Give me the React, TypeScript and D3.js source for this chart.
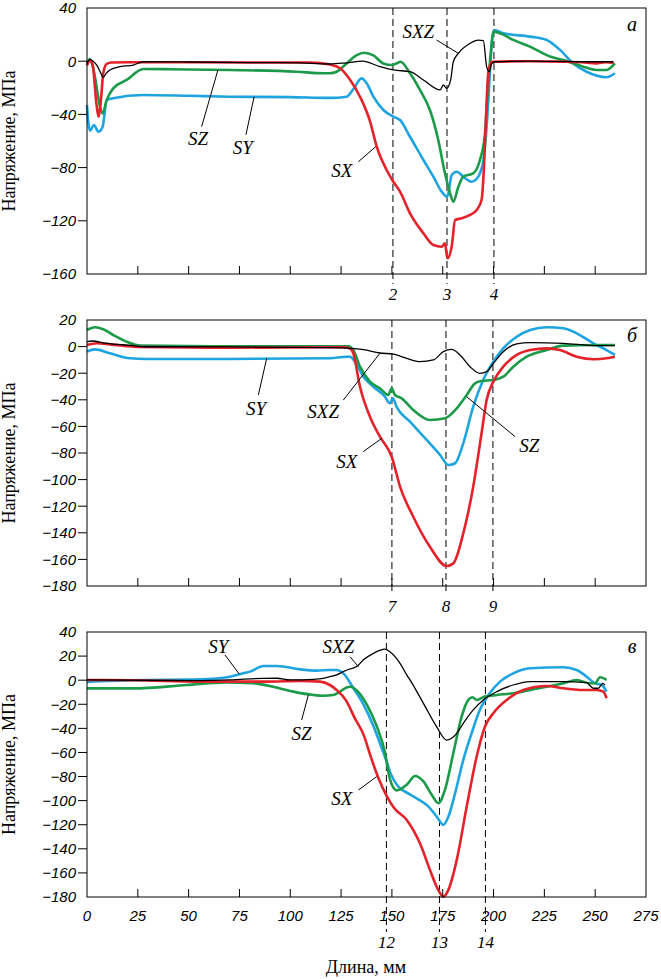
import { useEffect, useRef } from 'react';
import * as d3 from 'd3';

type Pt = [number, number];

// Panel а
const aSX: Pt[] = [[0,-3],[1.3,0.5],[2.8,-3],[4.5,-30],[5.6,-41.7],[6.8,-30],[8,-9],[9.7,-2],[12,-1],[20,-0.8],[50,-0.8],[80,-1],[110,-1],[119.5,-2.5],[124.5,-5.3],[129.4,-14],[134.3,-26.7],[139.2,-45],[142.5,-64],[147.4,-81.8],[150.7,-90.6],[154,-98],[158.9,-114.4],[165.5,-129.4],[170.4,-138.2],[174.5,-139.5],[176.1,-137],[177.3,-148.2],[179.4,-139.5],[181.1,-119.4],[184.3,-118.1],[188.4,-115.6],[191.7,-111.9],[194.1,-104.4],[195.3,-79.3],[196.3,-41.7],[197.4,-9.1],[199.1,-0.4],[218,0],[234,-0.4],[245,-1],[250.7,-1.6],[255,-0.8],[259,-1.2]];
const aSY: Pt[] = [[0,-33],[0.5,-44],[1.5,-52.3],[3.4,-48],[5.6,-53],[7.7,-49.2],[9.7,-29.2],[12.9,-27.9],[27.7,-25.4],[50,-26],[70.4,-26.7],[100,-27],[119.5,-27.6],[127.7,-26.7],[131,-21],[135.1,-12.9],[137.6,-16.6],[140.9,-26.7],[145.8,-36.7],[150.7,-41.7],[154,-44.2],[158.9,-56.8],[165.5,-74.3],[170.4,-86.8],[174.5,-98.1],[177.3,-101.9],[179.4,-85.6],[181.9,-83.1],[185.1,-86.8],[189.2,-90.6],[192.5,-86.8],[195,-74.3],[196.6,-49.2],[197.9,-16.6],[199.1,13.4],[200.2,23.5],[204.8,21],[217.9,18.5],[226.1,16],[232.7,8.5],[239.2,-1.7],[245.8,-7.9],[255.6,-12.1],[259.7,-9.1]];
const aSZ: Pt[] = [[0,-3],[1.1,1.4],[2.5,-2],[3.9,-11.6],[5.2,-24],[6.4,-34.2],[7.7,-39.2],[9.7,-29.2],[12.9,-20.4],[19.5,-14.1],[27.7,-5.9],[40,-6],[70.4,-6.6],[103.2,-7.9],[116.2,-9.1],[119.5,-9.1],[122.8,-7.9],[127.7,-1.7],[132.7,4.6],[136.4,6.4],[140.9,4.3],[145.8,-1.7],[149.9,-2.9],[152.5,-1.5],[154.2,-0.4],[158.9,-9.1],[163.8,-21.6],[168.7,-36.7],[172.8,-59.2],[176.1,-84.3],[178.6,-99.3],[180.2,-105.6],[182.7,-94.4],[185.1,-86.8],[190,-84.3],[193.3,-74.3],[195.8,-54.2],[197.4,-16.6],[198.8,8.6],[199.9,22.2],[203.2,21],[209.7,16],[217.9,11],[227.8,3.5],[234.3,0.9],[244.1,-4.1],[250.7,-6.6],[255.6,-6.6],[259.7,-1.7]];
const aSXZ: Pt[] = [[0,-1.7],[1.5,1.3],[3,0],[4.8,-3],[6.5,-8],[8,-12.1],[9.5,-9],[11.3,-6.6],[16.2,-4.1],[22.8,-2.9],[27.7,-0.4],[50,-0.6],[80,-1],[105,-1.3],[115,-2],[119.5,-2.1],[127.7,-1.2],[135.5,0],[144.1,-4.1],[150.7,-6.6],[158.9,-7.9],[165.5,-14.1],[173.7,-21.6],[175.3,-17.9],[176.9,-20.4],[178.9,-14.1],[180.2,-0.4],[182.7,5.9],[188.4,13.4],[192.5,15.9],[195,15.4],[196.6,-4.1],[197.9,-7.9],[199.1,-1.7],[200.7,-0.4],[218,0],[244,-0.4],[259,-0.4]];
const aYTicks = [40, 0, -40, -80, -120, -160];
const aMarks = [150.5, 177.1, 200.2];
const aMarkNames = ['2', '3', '4'];

// Panel б
const bSX: Pt[] = [[0,1.2],[4.8,2.5],[11.3,1.7],[26.1,-0.3],[70,-0.8],[126.1,-0.5],[129.4,-1.5],[131,-5],[134.3,-30.2],[139.2,-52.7],[144.1,-67.7],[149.9,-82.8],[154,-105.3],[160.5,-127.9],[168.7,-150.5],[176.9,-165],[180.2,-163],[185.1,-140.5],[190,-105.3],[194.1,-65.2],[196.6,-40.2],[199.9,-26.4],[204.8,-15.1],[211.4,-6.3],[218,-2.6],[226.1,-1.3],[232.7,-2.6],[240.9,-7.6],[249.1,-9.5],[255.6,-8.8],[259.7,-7.6]];
const bSY: Pt[] = [[0,-3.8],[3.9,-2.1],[11.3,-5],[21.2,-8.8],[29.4,-9.3],[70,-9.3],[119.5,-8.8],[127.7,-7.6],[129.4,-7.6],[131.8,-11.3],[136,-22.6],[140.9,-30.2],[146.6,-37.7],[149,-42.6],[150.5,-38.9],[152.3,-45.2],[158.9,-56.5],[167.1,-70.2],[173.7,-81.5],[177.8,-89],[181.1,-87.7],[185.1,-72.7],[190,-45.2],[194.9,-25.1],[199.9,-11.3],[204.8,-1.3],[211.4,7.4],[218,12.5],[226.1,14.5],[234.3,13.8],[240.9,10],[249.1,2.5],[255.6,-2.6],[259.7,-6.3]];
const bSZ: Pt[] = [[0,12.5],[3.9,14.5],[8,13],[12.9,8.7],[19.5,3.7],[26.1,0.7],[70,0.2],[128.6,0.3],[131,-2.6],[134.3,-15.1],[139.2,-26.4],[144.1,-31.4],[148.2,-36.4],[149.9,-31.4],[151.5,-36.4],[154.8,-38.9],[160.5,-47.7],[168.7,-55.2],[176.1,-53.9],[181.9,-46.4],[186.8,-36.4],[190.9,-27.6],[194.1,-25.9],[199.9,-25.1],[204.8,-22.6],[209.7,-15.1],[216.3,-7.6],[226.1,-2.6],[234.3,0.7],[250.7,1.2],[259.7,1.2]];
const bSXZ: Pt[] = [[0,3.7],[2.3,4.2],[9.7,2.5],[22.8,0.7],[27.7,-0.1],[70,-0.2],[119.5,-0.8],[129.4,-1.3],[136,-2.3],[144.1,-4.8],[150.7,-5.7],[157.3,-8.8],[163.8,-11.3],[170.4,-10],[175.3,-3.8],[179.4,-2.1],[183.5,-6.3],[188.4,-15.1],[193.3,-20.1],[196.6,-18.8],[199.9,-12.6],[204.8,-3.8],[211.4,2],[218,3],[234.3,2.5],[250.7,0.7],[259.7,0.7]];
const bYTicks = [20, 0, -20, -40, -60, -80, -100, -120, -140, -160, -180];
const bMarks = [150, 176.6, 199.7];
const bMarkNames = ['7', '8', '9'];

// Panel в
const cSX: Pt[] = [[0,0.2],[22.8,0],[55.6,-1.2],[88.4,-1.2],[104.8,-0.6],[114.6,-1.2],[119.5,-4],[122.8,-8.1],[127.5,-17],[131.8,-31.7],[136,-45],[139.5,-63],[143.3,-81],[147.4,-96],[151,-106],[157.3,-116],[163.8,-135.4],[168.7,-157.5],[172,-171.4],[175.3,-179.7],[177.8,-174.1],[181.9,-149.2],[186.8,-104.9],[191.7,-63.4],[195.8,-38.5],[199.9,-27.4],[206.5,-16.4],[214.7,-8.1],[226.1,-4.8],[234.3,-6.7],[242.5,-8.1],[250.7,-8.1],[254,-9.5],[255.6,-15]];
const cSY: Pt[] = [[0,-1.4],[22.8,0],[55.6,0.7],[70.4,2.9],[76.9,5.7],[80.2,7.1],[86.8,11.8],[93.4,11.8],[104.8,9],[113,7.9],[119.5,8.5],[122.8,8.5],[126.5,5],[131,-6.5],[136,-20],[140.9,-38],[145,-56.5],[147.4,-67.6],[149.5,-78],[153,-88],[158,-94],[163,-99],[168,-105],[172,-113.2],[175.3,-120.1],[177.8,-113.2],[181.1,-93.8],[185.1,-66.3],[189.2,-44.1],[193.3,-24.6],[198.2,-10.7],[203.2,-1.2],[209.7,5.7],[218,9.9],[234.3,10.7],[240.9,8.5],[245.8,2.9],[249.9,-2.6],[253.2,-4],[255.6,-9.5]];
const cSZ: Pt[] = [[0,-6.8],[22.8,-6.8],[49,-4],[68.7,-1.8],[81.8,-2.6],[91.6,-5.4],[101.5,-9.5],[111.4,-12.3],[116,-12.9],[121.2,-12.3],[124.5,-9.5],[127.7,-6],[129.5,-5.5],[132.7,-8.5],[137.6,-20],[142.5,-38],[146.6,-60],[149,-82],[152.3,-91.5],[157.3,-86.8],[161.4,-79.5],[165.5,-84.1],[169.6,-95.2],[172.9,-102.1],[176.1,-91],[180.2,-60.7],[184.3,-30.3],[187.6,-16.4],[189.7,-14.2],[191.7,-16.4],[195.8,-13.6],[201.6,-12.3],[209.7,-10.9],[218,-8.1],[234.3,-2.6],[240.9,0.2],[247.4,-2.6],[249.9,-2.6],[252.4,2.4],[255.6,0.2]];
const cSXZ: Pt[] = [[0,0.2],[55.6,-0.3],[70.4,0.2],[86.8,1.5],[93.4,1.6],[100,0.2],[111.4,0.7],[116.2,1.5],[119.5,2.9],[122.8,4.4],[126.1,7.1],[129.4,9.3],[132.7,11.3],[136,16.9],[140.9,22.3],[146.6,25.8],[149,23.6],[154,14],[157.3,4.4],[158.9,0.2],[165.5,-19.2],[172,-38.6],[176.9,-49.7],[181.9,-44.1],[185.1,-35.8],[190,-24.6],[195,-16.4],[201.6,-9.5],[209.7,-4],[218,-1.2],[234.3,-1.2],[245.8,-2.1],[249.1,-6.7],[251.6,-6.7],[253.7,-2.6],[254.8,-4]];
const cYTicks = [40, 20, 0, -20, -40, -60, -80, -100, -120, -140, -160, -180];
const cMarks = [147.3, 173.4, 196];
const cMarkNames = ['12', '13', '14'];

const X_TICKS = [0, 25, 50, 75, 100, 125, 150, 175, 200, 225, 250, 275];

// label text position + leader line (from, to), in data units
type Note = { text: string; at: Pt; from: Pt; to: Pt };
const aNotes: Note[] = [
  { text: 'SZ', at: [54.6, -57.7], from: [64.4, -6.6], to: [56.4, -49.2] },
  { text: 'SY', at: [76.7, -64.5], from: [82.2, -26.7], to: [78.2, -55.3] },
  { text: 'SX', at: [125.3, -81.8], from: [142, -64.3], to: [133.5, -75.6] },
  { text: 'SXZ', at: [163, 22.2], from: [182.7, 5.9], to: [172, 15.9] },
];
const bNotes: Note[] = [
  { text: 'SY', at: [83.1, -46.4], from: [88.4, -8.8], to: [84.3, -36.4] },
  { text: 'SXZ', at: [116.2, -48.9], from: [144.1, -5], to: [126.1, -40.2] },
  { text: 'SX', at: [127.8, -86.5], from: [145, -69], to: [135.9, -79] },
  { text: 'SZ', at: [217.6, -74], from: [186.8, -37.7], to: [210.6, -67.7] },
];
const cNotes: Note[] = [
  { text: 'SY', at: [64.6, 27.8], from: [74.9, 5.1], to: [67.9, 20.9] },
  { text: 'SZ', at: [105.6, -44.1], from: [108.9, -12.3], to: [105.6, -33.1] },
  { text: 'SXZ', at: [123.6, 27.8], from: [133.5, 11.2], to: [129.4, 19.5] },
  { text: 'SX', at: [125.3, -98], from: [142.5, -80.1], to: [133.5, -91.2] },
];

const COLORS = { SY: '#1ea4e0', SZ: '#1b9a49', SX: '#e4222a', SXZ: '#000000' };

const SANS = '"Liberation Sans", Arial, sans-serif';
const SERIF = '"Liberation Serif", "Times New Roman", serif';

const minus = (v: number) => String(v).replace('-', '\u2212');

export default function App() {
  const ref = useRef<SVGSVGElement>(null);

  useEffect(() => {
    if (!ref.current) return;
    const svg = d3.select(ref.current);
    svg.selectAll('*').remove();

    const x = d3.scaleLinear().domain([0, 275]).range([87, 646]);

    const panels = [
      { top: 8, bottom: 274, domain: [-160, 40], ticks: aYTicks, marks: aMarks, names: aMarkNames, nameY: 300, dashEnd: 284,
        series: [['SY', aSY], ['SZ', aSZ], ['SX', aSX], ['SXZ', aSXZ]], notes: aNotes, letter: 'а', letterY: 31, xLabels: false },
      { top: 320, bottom: 586, domain: [-180, 20], ticks: bYTicks, marks: bMarks, names: bMarkNames, nameY: 612, dashEnd: 594,
        series: [['SY', bSY], ['SZ', bSZ], ['SX', bSX], ['SXZ', bSXZ]], notes: bNotes, letter: 'б', letterY: 342, xLabels: false },
      { top: 632, bottom: 897, domain: [-180, 40], ticks: cYTicks, marks: cMarks, names: cMarkNames, nameY: 948, dashEnd: 932,
        series: [['SY', cSY], ['SZ', cSZ], ['SX', cSX], ['SXZ', cSXZ]], notes: cNotes, letter: 'в', letterY: 653, xLabels: true },
    ] as const;

    panels.forEach(p => {
      const y = d3.scaleLinear().domain(p.domain as unknown as [number, number]).range([p.bottom, p.top]);
      const g = svg.append('g');

      // dashed section lines
      p.marks.forEach((m, i) => {
        g.append('line').attr('x1', x(m)).attr('x2', x(m)).attr('y1', p.top).attr('y2', p.dashEnd)
          .attr('stroke', '#000').attr('stroke-width', 1).attr('stroke-dasharray', '7,4');
        g.append('text').attr('x', x(m)).attr('y', p.nameY).attr('text-anchor', 'middle')
          .attr('font-family', SERIF).attr('font-style', 'italic').attr('font-size', 17).text(p.names[i]);
      });

      // curves
      const line = d3.line<Pt>().x(d => x(d[0])).y(d => y(d[1])).curve(d3.curveMonotoneX);
      p.series.forEach(([name, data]) => {
        g.append('path').datum(data as Pt[]).attr('fill', 'none')
          .attr('stroke', COLORS[name as keyof typeof COLORS])
          .attr('stroke-width', name === 'SXZ' ? 1.3 : 2.6)
          .attr('stroke-linejoin', 'round')
          .attr('d', line);
      });

      // frame
      g.append('rect').attr('x', x(0)).attr('y', p.top).attr('width', x(275) - x(0)).attr('height', p.bottom - p.top)
        .attr('fill', 'none').attr('stroke', '#000').attr('stroke-width', 1);

      // y ticks (outward) and labels
      p.ticks.forEach(t => {
        if (t !== p.domain[0] && t !== p.domain[1]) {
          g.append('line').attr('x1', x(0) - 9).attr('x2', x(0)).attr('y1', y(t)).attr('y2', y(t)).attr('stroke', '#000');
        }
        g.append('text').attr('x', 76).attr('y', y(t)).attr('dy', '0.36em').attr('text-anchor', 'end')
          .attr('font-family', SANS).attr('font-style', 'italic').attr('font-size', 15).text(minus(t));
      });

      // x ticks (inward)
      X_TICKS.slice(1, -1).forEach(t => {
        g.append('line').attr('x1', x(t)).attr('x2', x(t)).attr('y1', p.bottom).attr('y2', p.bottom - 8).attr('stroke', '#000');
      });
      if (p.xLabels) {
        X_TICKS.forEach(t => {
          g.append('text').attr('x', x(t)).attr('y', 921).attr('text-anchor', 'middle')
            .attr('font-family', SANS).attr('font-style', 'italic').attr('font-size', 15).text(String(t));
        });
      }

      // curve names with leaders
      p.notes.forEach(n => {
        g.append('line').attr('x1', x(n.from[0])).attr('y1', y(n.from[1])).attr('x2', x(n.to[0])).attr('y2', y(n.to[1]))
          .attr('stroke', '#000').attr('stroke-width', 1);
        g.append('text').attr('x', x(n.at[0])).attr('y', y(n.at[1])).attr('dy', '0.35em').attr('text-anchor', 'middle')
          .attr('font-family', SERIF).attr('font-style', 'italic').attr('font-size', 19).text(n.text);
      });

      // panel letter
      g.append('text').attr('x', 632).attr('y', p.letterY).attr('text-anchor', 'middle')
        .attr('font-family', SERIF).attr('font-style', 'italic').attr('font-size', 20).text(p.letter);

      // y axis title
      g.append('text').attr('transform', `translate(15,${(p.top + p.bottom) / 2}) rotate(-90)`)
        .attr('text-anchor', 'middle').attr('font-family', SERIF).attr('font-size', 18).text('Напряжение, МПа');
    });

    svg.append('text').attr('x', 366).attr('y', 973).attr('text-anchor', 'middle')
      .attr('font-family', SERIF).attr('font-size', 18).text('Длина, мм');
  }, []);

  return (
    <svg ref={ref} width={661} height={979} style={{ position: 'absolute', left: 0, top: 0, background: '#fff' }} />
  );
}
